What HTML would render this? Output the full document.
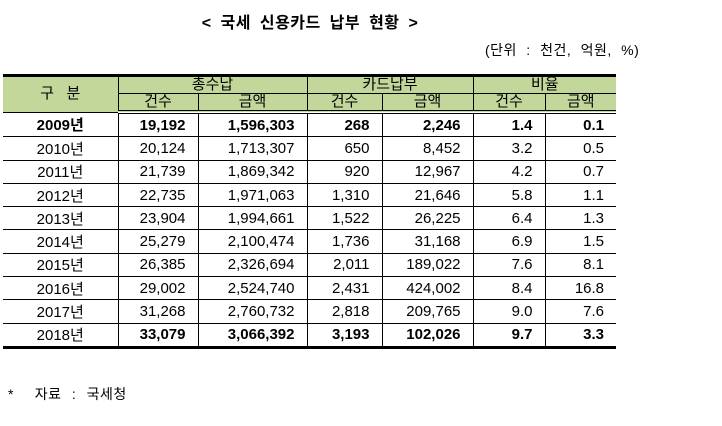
<!DOCTYPE html>
<html><head><meta charset="utf-8"><style>
body{margin:0;width:722px;height:426px;background:#fff;position:relative;font-family:"Liberation Sans","Noto Sans CJK KR","NanumGothic",sans-serif;color:#000;overflow:hidden}
.title{position:absolute;left:0;width:620px;top:9px;text-align:center;font-size:16px;font-weight:bold;word-spacing:4px;letter-spacing:0.5px}
.unit{position:absolute;left:485px;top:40px;font-size:14px;word-spacing:5px;letter-spacing:0.5px}
.note{position:absolute;left:8px;top:384px;font-size:14px;word-spacing:6px;letter-spacing:0.5px}
table{position:absolute;left:3px;top:74px;border-collapse:collapse;table-layout:fixed;width:613px;font-size:15px}
td,th{border:1px solid #000;padding:0 12px 0 0;height:22.3px;text-align:right;white-space:nowrap}
th{background:#c4d79b;font-weight:normal;text-align:center;padding:0;height:16px;line-height:16px}
tr.h1 th{border-top:3px solid #000}
tr.h2 th{border-bottom:4px double #000}
td:first-child{text-align:center;padding:0}
tr.last td{border-bottom:3px solid #000}
td:first-child,th:first-child{border-left:none}
td:last-child,th:last-child{border-right:none}
.b{font-weight:bold}
</style></head><body>
<div class="title">&lt; 국세 신용카드 납부 현황 &gt;</div>
<div class="unit">(단위 : 천건, 억원, %)</div>
<table>
<colgroup><col style="width:115px"><col style="width:80px"><col style="width:109px"><col style="width:75px"><col style="width:91px"><col style="width:72px"><col style="width:71px"></colgroup>
<tr class="h1"><th rowspan="2">구 &nbsp; 분</th><th colspan="2">총수납</th><th colspan="2">카드납부</th><th colspan="2">비율</th></tr>
<tr class="h2"><th>건수</th><th>금액</th><th>건수</th><th>금액</th><th>건수</th><th>금액</th></tr>
<tr class="b"><td>2009년</td><td>19,192</td><td>1,596,303</td><td>268</td><td>2,246</td><td>1.4</td><td>0.1</td></tr>
<tr><td>2010년</td><td>20,124</td><td>1,713,307</td><td>650</td><td>8,452</td><td>3.2</td><td>0.5</td></tr>
<tr><td>2011년</td><td>21,739</td><td>1,869,342</td><td>920</td><td>12,967</td><td>4.2</td><td>0.7</td></tr>
<tr><td>2012년</td><td>22,735</td><td>1,971,063</td><td>1,310</td><td>21,646</td><td>5.8</td><td>1.1</td></tr>
<tr><td>2013년</td><td>23,904</td><td>1,994,661</td><td>1,522</td><td>26,225</td><td>6.4</td><td>1.3</td></tr>
<tr><td>2014년</td><td>25,279</td><td>2,100,474</td><td>1,736</td><td>31,168</td><td>6.9</td><td>1.5</td></tr>
<tr><td>2015년</td><td>26,385</td><td>2,326,694</td><td>2,011</td><td>189,022</td><td>7.6</td><td>8.1</td></tr>
<tr><td>2016년</td><td>29,002</td><td>2,524,740</td><td>2,431</td><td>424,002</td><td>8.4</td><td>16.8</td></tr>
<tr><td>2017년</td><td>31,268</td><td>2,760,732</td><td>2,818</td><td>209,765</td><td>9.0</td><td>7.6</td></tr>
<tr class="last"><td>2018년</td><td class="b">33,079</td><td class="b">3,066,392</td><td class="b">3,193</td><td class="b">102,026</td><td class="b">9.7</td><td class="b">3.3</td></tr>
</table>
<div class="note">* &nbsp;자료 : 국세청</div>
</body></html>
